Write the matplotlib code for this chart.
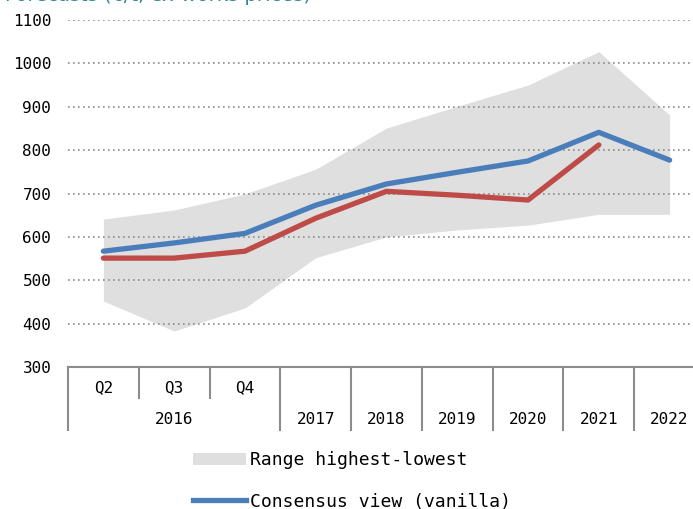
import matplotlib
matplotlib.use("Agg")
import matplotlib.pyplot as plt
from matplotlib.lines import Line2D
from matplotlib.patches import Patch

# chart data
categories = ["Q2", "Q3", "Q4", "2017", "2018", "2019", "2020", "2021", "2022"]
quarter_labels = ["Q2", "Q3", "Q4", "", "", "", "", "", ""]
year_labels = ["", "2016", "", "2017", "2018", "2019", "2020", "2021", "2022"]
range_high = [641, 662, 699, 756, 851, 901, 950, 1027, 881]
range_low = [452, 383, 436, 552, 600, 616, 627, 652, 652]
consensus = [567, 586, 608, 673, 722, 749, 775, 841, 777]
own_view = [551, 551, 567, 643, 705, 696, 685, 812]
yticks = [300, 400, 500, 600, 700, 800, 900, 1000, 1100]

mono = "DejaVu Sans Mono"
grey = "#8c8c8c"

fig = plt.figure(figsize=(6.93, 5.09), dpi=100)
ax = fig.add_axes([68 / 693, 1 - 367 / 509, 637 / 693, 347 / 509])

x = list(range(len(categories)))

# range band and lines
ax.fill_between(x, range_low, range_high, color="#dfdfdf", lw=0, zorder=1)
ax.plot(x, consensus, color="#4a7ebb", lw=3.8, solid_capstyle="round", zorder=3)
ax.plot(x[:len(own_view)], own_view, color="#be4b48", lw=3.8,
	solid_capstyle="round", zorder=3)

ax.set_xlim(-0.5, 8.5)
ax.set_ylim(300, 1100)
ax.set_yticks(yticks)
ax.set_yticklabels([str(v) for v in yticks], fontfamily=mono, fontsize=11.5)
ax.tick_params(axis="y", length=0, pad=12)
ax.set_xticks([])
for v in yticks[1:]:
	ax.axhline(v, color=grey, lw=1.2, ls=(0, (1, 2)), zorder=2)

for s in ["top", "right", "left"]:
	ax.spines[s].set_visible(False)
ax.spines["bottom"].set_color(grey)
ax.spines["bottom"].set_linewidth(1.5)

# two-level category axis drawn as a small table under the plot
tr = ax.get_xaxis_transform()
row_mid = -31 / 347
row_bot = -63 / 347
for i in range(len(categories) + 1):
	xpos = i - 0.5
	ybot = row_mid if i in (1, 2) else row_bot
	ax.plot([xpos, xpos], [0, ybot], color=grey, lw=1.5, transform=tr,
		clip_on=False)
for i, lab in enumerate(quarter_labels):
	if lab:
		ax.text(i, -21 / 347, lab, transform=tr, ha="center", va="center",
			fontfamily=mono, fontsize=11.5)
for i, lab in enumerate(year_labels):
	if lab:
		ax.text(i, -53 / 347, lab, transform=tr, ha="center", va="center",
			fontfamily=mono, fontsize=11.5)

# legend, partly cut off at the bottom like the original
handles = [Patch(facecolor="#dfdfdf", edgecolor="none"),
	Line2D([0], [0], color="#4a7ebb", lw=3.8)]
labels = ["Range highest-lowest", "Consensus view (vanilla)"]
fig.legend(handles, labels, loc="upper left", bbox_to_anchor=(177 / 693, 1 - 435 / 509),
	frameon=False, prop={"family": mono, "size": 13}, handlelength=2.9,
	handleheight=0.7, handletextpad=0.25, labelspacing=1.3)

# title, mostly outside the visible area
fig.text(5 / 693, 1 - 1 / 509, "Forecasts (€/t, ex-works prices)", color="#31859c",
	fontsize=14, va="baseline", ha="left")

plt.savefig("out.png", dpi=100)
